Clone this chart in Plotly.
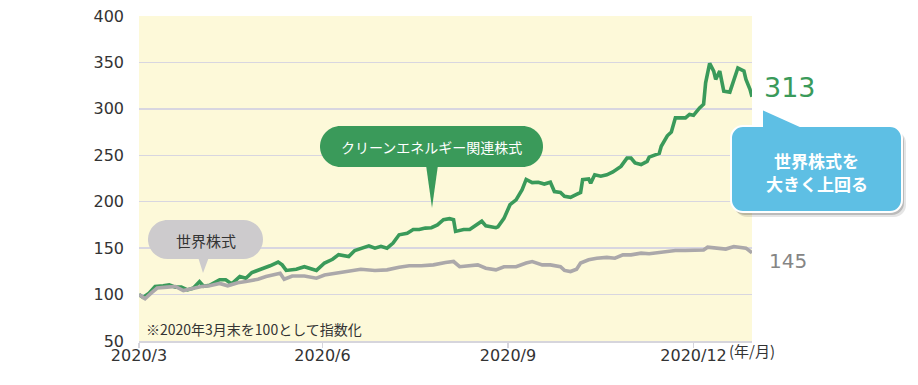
import plotly.graph_objects as go

# ---------------- data ----------------
clean_dates = ["2020-03-31","2020-04-02","2020-04-05","2020-04-08","2020-04-12","2020-04-15","2020-04-18","2020-04-21","2020-04-24","2020-04-27",
               "2020-04-30","2020-05-02","2020-05-05","2020-05-10","2020-05-13","2020-05-16","2020-05-20","2020-05-23","2020-05-26","2020-05-30",
               "2020-06-04","2020-06-08","2020-06-10","2020-06-12","2020-06-17","2020-06-21","2020-06-24","2020-06-27","2020-07-01","2020-07-05",
               "2020-07-08","2020-07-13","2020-07-16","2020-07-20","2020-07-23","2020-07-26","2020-07-29","2020-08-01","2020-08-04","2020-08-07",
               "2020-08-11","2020-08-14","2020-08-17","2020-08-20","2020-08-23","2020-08-26","2020-08-29","2020-09-01","2020-09-03","2020-09-04",
               "2020-09-08","2020-09-11","2020-09-14","2020-09-17","2020-09-19","2020-09-24","2020-09-25","2020-09-28","2020-10-01","2020-10-04",
               "2020-10-07","2020-10-09","2020-10-12","2020-10-15","2020-10-18","2020-10-21","2020-10-23","2020-10-26","2020-10-28","2020-10-31",
               "2020-11-03","2020-11-05","2020-11-06","2020-11-09","2020-11-10","2020-11-12","2020-11-15","2020-11-18","2020-11-21","2020-11-25",
               "2020-11-28","2020-11-30","2020-12-02","2020-12-05","2020-12-08","2020-12-09","2020-12-14","2020-12-15","2020-12-18","2020-12-20",
               "2020-12-22","2020-12-27","2020-12-29","2020-12-31","2021-01-03","2021-01-05","2021-01-06","2021-01-08","2021-01-10","2021-01-11",
               "2021-01-13","2021-01-15","2021-01-18","2021-01-20","2021-01-22","2021-01-25","2021-01-26","2021-01-28","2021-01-29"]
clean_values = [100, 97, 101.5, 108.7, 109.4, 110.5, 108, 108, 105, 107,
                114, 109, 110, 116, 116, 111.5, 119.5, 117.6, 123.7, 126.6,
                131, 135, 132, 126, 127.3, 130, 128.4, 126, 134, 138,
                143, 141, 147.5, 150, 152.5, 150, 152, 150, 155.4, 164.4,
                166, 170, 170, 171.6, 172, 175, 180.6, 181.7, 180.6, 168,
                170, 170, 174, 179, 174, 172, 173, 182, 196.8, 202,
                213, 224, 220.6, 221, 219, 221, 211, 210, 205.8, 204.7,
                208, 210, 223.7, 224.5, 220, 229, 227.4, 229, 232, 238,
                247, 247, 241.7, 240, 243.5, 248, 252, 259.7, 271, 275,
                290.3, 290.3, 294, 293, 301, 305, 328, 349, 340.7, 331.7,
                340.7, 319, 318, 331.7, 344, 340.7, 331.7, 321, 313]

world_dates = ["2020-03-31","2020-04-03","2020-04-06","2020-04-09","2020-04-14","2020-04-18","2020-04-22","2020-04-27","2020-05-01","2020-05-05",
               "2020-05-10","2020-05-14","2020-05-19","2020-05-23","2020-05-29","2020-06-02","2020-06-06","2020-06-09","2020-06-11","2020-06-15",
               "2020-06-21","2020-06-27","2020-07-01","2020-07-07","2020-07-13","2020-07-19","2020-07-26","2020-08-01","2020-08-07","2020-08-12",
               "2020-08-18","2020-08-24","2020-08-30","2020-09-03","2020-09-06","2020-09-11","2020-09-15","2020-09-19","2020-09-24","2020-09-28",
               "2020-10-04","2020-10-09","2020-10-12","2020-10-17","2020-10-21","2020-10-26","2020-10-28","2020-10-31","2020-11-03","2020-11-05",
               "2020-11-09","2020-11-13","2020-11-18","2020-11-22","2020-11-26","2020-11-30","2020-12-05","2020-12-09","2020-12-14","2020-12-18",
               "2020-12-22","2020-12-27","2020-12-31","2021-01-05","2021-01-07","2021-01-11","2021-01-16","2021-01-20","2021-01-23","2021-01-26",
               "2021-01-29"]
world_values = [100, 95.5, 101.5, 107, 108, 108.7, 104.3, 107, 108.7, 109.4,
                112, 109.4, 112.8, 114, 116.5, 119.4, 122, 123, 116.5, 120,
                120, 117.6, 121, 123, 124.8, 127.3, 126, 126.6, 129.5, 131,
                131, 132, 134.5, 135.6, 130, 131, 132, 128.4, 126.6, 130,
                130, 134, 135.6, 132, 132, 130, 126, 124.8, 127.3, 134,
                137.4, 139.2, 140, 139.2, 142.8, 142.8, 144.6, 144, 145.3, 146,
                147.5, 147.5, 148, 148, 151, 150, 149, 151.8, 151, 150,
                145]

x_tick_vals = ["2020-03-31", "2020-06-30", "2020-09-30", "2020-12-31"]
x_tick_text = ["2020/3", "2020/6", "2020/9", "2020/12"]
y_tick_vals = [50, 100, 150, 200, 250, 300, 350, 400]

GREEN = "#3a9a5a"
GREY = "#aba8aa"
BLUE = "#5ebfe4"
TXT = "#333333"
NUMFONT = "DejaVu Sans, Noto Sans CJK JP"
JPFONT = "Noto Sans CJK JP"

W, H = 918, 385
ML, MR, MT, MB = 139, 166, 16, 44
PW, PH = W - ML - MR, H - MT - MB


def px(x):
    return (x - ML) / PW


def py(y):
    return (H - MB - y) / PH


def to_path(cmds, dx=0, dy=0):
    out = []
    for c in cmds:
        op, pts = c[0], c[1:]
        s = op + " " + " ".join(f"{px(a + dx):.5f},{py(b + dy):.5f}" for a, b in pts)
        out.append(s)
    return " ".join(out) + " Z"


def rrect_cmds(x0, y0, x1, y1, r, notch=None):
    k = 0.5523 * r
    c = [("M", (x0 + r, y0))]
    if notch:
        for p in notch:
            c.append(("L", p))
    c += [("L", (x1 - r, y0)),
          ("C", (x1 - r + k, y0), (x1, y0 + r - k), (x1, y0 + r)),
          ("L", (x1, y1 - r)),
          ("C", (x1, y1 - r + k), (x1 - r + k, y1), (x1 - r, y1)),
          ("L", (x0 + r, y1)),
          ("C", (x0 + r - k, y1), (x0, y1 - r + k), (x0, y1 - r)),
          ("L", (x0, y0 + r)),
          ("C", (x0, y0 + r - k), (x0 + r - k, y0), (x0 + r, y0))]
    return c


fig = go.Figure()
fig.add_trace(go.Scatter(x=clean_dates, y=clean_values, mode="lines",
                         line=dict(color=GREEN, width=3.6), hoverinfo="skip"))
fig.add_trace(go.Scatter(x=world_dates, y=world_values, mode="lines",
                         line=dict(color=GREY, width=3.6), hoverinfo="skip"))

shapes = []
# grey bubble
shapes.append(dict(type="path", xref="paper", yref="paper", layer="above",
                   path=to_path(rrect_cmds(148, 220, 263, 259, 19.5)),
                   fillcolor="#cdcbcd", line=dict(width=0)))
shapes.append(dict(type="path", xref="paper", yref="paper", layer="above",
                   path=to_path([("M", (198, 257)), ("L", (209, 257)), ("L", (203, 273))]),
                   fillcolor="#cdcbcd", line=dict(width=0)))
# green bubble
shapes.append(dict(type="path", xref="paper", yref="paper", layer="above",
                   path=to_path(rrect_cmds(320, 126, 543, 167, 20.5)),
                   fillcolor=GREEN, line=dict(width=0)))
shapes.append(dict(type="path", xref="paper", yref="paper", layer="above",
                   path=to_path([("M", (426, 165)), ("L", (438, 165)), ("L", (432, 208))]),
                   fillcolor=GREEN, line=dict(width=0)))
# blue callout with shadow
blue_cmds = rrect_cmds(731, 126, 902, 212, 12, notch=[(762, 126), (762, 109), (800, 126)])
shapes.append(dict(type="path", xref="paper", yref="paper", layer="above",
                   path=to_path(blue_cmds, 4, 5), fillcolor="rgba(0,0,0,0.10)", line=dict(width=0)))
shapes.append(dict(type="path", xref="paper", yref="paper", layer="above",
                   path=to_path(blue_cmds, 2, 3), fillcolor="rgba(0,0,0,0.18)", line=dict(width=0)))
shapes.append(dict(type="path", xref="paper", yref="paper", layer="above",
                   path=to_path(blue_cmds), fillcolor=BLUE, line=dict(color="white", width=2)))

annotations = [
    dict(x=px(206), y=py(240), text="世界株式", font=dict(family=JPFONT, size=15, color=TXT)),
    dict(x=px(431), y=py(147), text="クリーンエネルギー関連株式", font=dict(family=JPFONT, size=14, color="white")),
    dict(x=px(817), y=py(160), text="<b>世界株式を</b>",
         font=dict(family=JPFONT, size=17, color="white")),
    dict(x=px(817), y=py(183), text="<b>大きく上回る</b>",
         font=dict(family=JPFONT, size=17, color="white")),
    dict(x=px(762), y=py(87), text=f"{clean_values[-1]:.0f}", xanchor="left",
         font=dict(family=NUMFONT, size=27, color=GREEN)),
    dict(x=px(767), y=py(261), text=f"{world_values[-1]:.0f}", xanchor="left",
         font=dict(family=NUMFONT, size=20, color="#858585")),
    dict(x=px(144), y=py(329), text="※2020年3月末を100として指数化", xanchor="left",
         font=dict(family=JPFONT, size=14, color=TXT)),
    dict(x=px(727), y=py(351), text="(年/月)", xanchor="left",
         font=dict(family=JPFONT, size=15, color=TXT)),
]
for a in annotations:
    a.update(xref="paper", yref="paper", showarrow=False)
    a.setdefault("xanchor", "center")
    a.setdefault("yanchor", "middle")

fig.update_layout(
    width=W, height=H,
    margin=dict(l=ML, r=MR, t=MT, b=MB, autoexpand=False),
    paper_bgcolor="white",
    plot_bgcolor="#fdf9d9",
    showlegend=False,
    shapes=shapes,
    annotations=annotations,
    xaxis=dict(type="date", range=[clean_dates[0], clean_dates[-1]],
               tickvals=x_tick_vals, ticktext=x_tick_text, automargin=False,
               showgrid=False, zeroline=False,
               showline=True, linecolor="#d6d5dc", linewidth=1.5,
               ticks="outside", ticklen=5, tickcolor="#d6d5dc", tickwidth=1.5,
               ticklabelstandoff=-6,
               tickfont=dict(family=NUMFONT, size=16, color=TXT)),
    yaxis=dict(range=[50, 400], tickvals=y_tick_vals, automargin=False,
               showgrid=True, gridcolor="#d8d6e0", gridwidth=1.5,
               zeroline=False, showline=False, ticks="",
               ticklabelstandoff=14,
               tickfont=dict(family=NUMFONT, size=16, color=TXT)),
)

fig.write_html("out.html",
               config={"displayModeBar": False, "staticPlot": True},
               post_script="document.body.style.margin='0';document.body.style.overflow='hidden';")
